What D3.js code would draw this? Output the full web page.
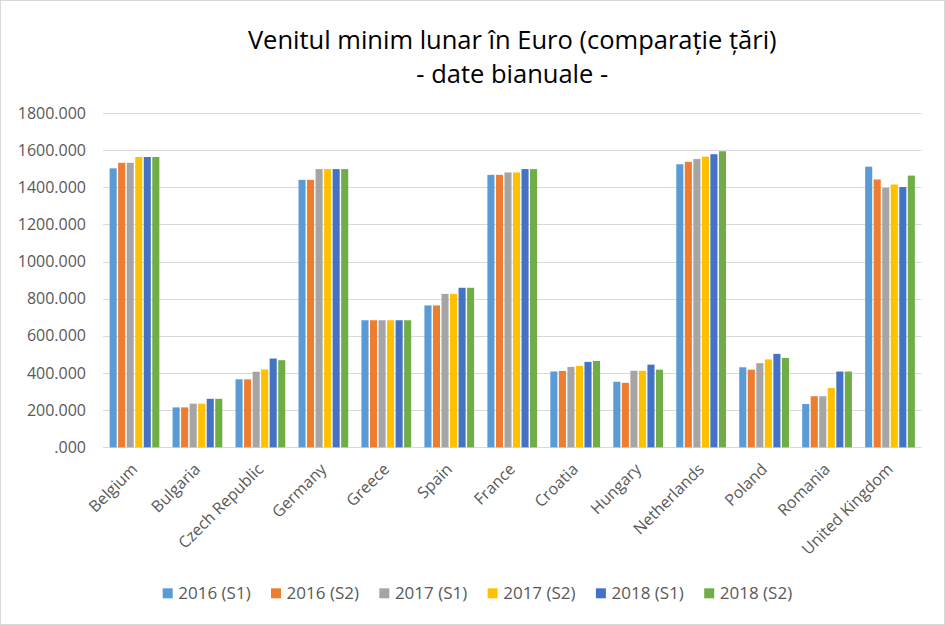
<!DOCTYPE html>
<html><head><meta charset="utf-8">
<script src="https://cdn.jsdelivr.net/npm/d3@7"></script>
<style>
body{margin:0;background:#fff;}
svg{display:block;}
text{font-family:"Open Sans","Noto Sans",sans-serif;}
</style></head>
<body><svg id="c" width="945" height="625"></svg>
<script>
const categories = ["Belgium","Bulgaria","Czech Republic","Germany","Greece","Spain","France","Croatia","Hungary","Netherlands","Poland","Romania","United Kingdom"];
const seriesNames = ["2016 (S1)","2016 (S2)","2017 (S1)","2017 (S2)","2018 (S1)","2018 (S2)"];
const s2016S1 = [1502,215,366,1440,684,764,1467,408,353,1524,431,233,1511];
const s2016S2 = [1532,215,366,1440,684,764,1467,411,347,1537,418,275,1442];
const s2017S1 = [1532,235,407,1498,684,826,1480,433,412,1552,453,275,1397];
const s2017S2 = [1563,235,419,1498,684,826,1480,438,412,1565,473,319,1415];
const s2018S1 = [1563,261,478,1498,684,859,1498,460,445,1578,503,408,1401];
const s2018S2 = [1563,261,469,1498,684,859,1498,465,418,1594,481,408,1463];
const seriesValues = [s2016S1,s2016S2,s2017S1,s2017S2,s2018S1,s2018S2];
const colors = ["#5B9BD5","#ED7D31","#A5A5A5","#FFC000","#4472C4","#70AD47"];
const yTicks = [0,200,400,600,800,1000,1200,1400,1600,1800];

const svg = d3.select("#c");
svg.append("rect").attr("x",0.5).attr("y",0.5).attr("width",944).attr("height",624)
  .attr("fill","#fff").attr("stroke","#d9d9d9");

const L=103, R=921.5, T=113, B=447.3;
const x = d3.scaleBand().domain(categories).range([L,R]).paddingInner(0.21).paddingOuter(0.105);
const xi = d3.scaleBand().domain(seriesNames).range([0,x.bandwidth()]).paddingInner(0.17);
const y = d3.scaleLinear().domain([0,1800]).range([B,T]);

const fmt = v => v===0 ? ".000" : v.toFixed(3);

// grid
svg.append("g").selectAll("line").data(yTicks).join("line")
  .attr("x1",L).attr("x2",R).attr("y1",d=>Math.round(y(d))+0.5).attr("y2",d=>Math.round(y(d))+0.5)
  .attr("stroke","#d9d9d9").attr("stroke-width",1);

// y axis labels
const yAxis = d3.axisLeft(y).tickValues(yTicks).tickFormat(fmt).tickSize(0).tickPadding(17);
const ga = svg.append("g").attr("transform",`translate(${L},0)`).call(yAxis);
ga.select(".domain").remove();
ga.selectAll("text").attr("fill","#595959").style("font-size","16px").style("font-family","Open Sans, sans-serif");

// bars
const g = svg.append("g");
categories.forEach((c,ci)=>{
  seriesNames.forEach((s,si)=>{
    const v = seriesValues[si][ci];
    g.append("rect").attr("x",x(c)+xi(s)).attr("width",xi.bandwidth())
      .attr("y",y(v)).attr("height",y(0)-y(v)).attr("fill",colors[si]);
  });
});

// x axis labels
const xAxis = d3.axisBottom(x).tickSize(0).tickPadding(0);
const gx = svg.append("g").attr("transform",`translate(0,${B})`).call(xAxis);
gx.select(".domain").remove();
gx.selectAll("text").attr("fill","#595959").style("font-size","16px")
  .attr("text-anchor","end").attr("dy",null).attr("y",null)
  .attr("transform","translate(0,19) rotate(-45)").attr("dy","0.35em");

// title
const tc = (L+R)/2;
svg.append("text").attr("x",tc).attr("y",49).attr("text-anchor","middle")
  .attr("fill","#000").style("font-size","25.5px").style("font-family","Open Sans, sans-serif")
  .text("Venitul minim lunar în Euro (comparație țări)");
svg.append("text").attr("x",tc).attr("y",83).attr("text-anchor","middle")
  .attr("fill","#000").style("font-size","25.5px").style("font-family","Open Sans, sans-serif")
  .text("- date bianuale -");

// legend
const lg = svg.append("g");
seriesNames.forEach((s,i)=>{
  const lx = 162.7 + i*108.3;
  lg.append("rect").attr("x",lx).attr("y",588.3).attr("width",10).attr("height",10).attr("fill",colors[i]);
  lg.append("text").attr("x",lx+15.6).attr("y",593.5).attr("dy","0.35em").attr("fill","#595959")
    .style("font-size","17px").text(s);
});
</script></body></html>
